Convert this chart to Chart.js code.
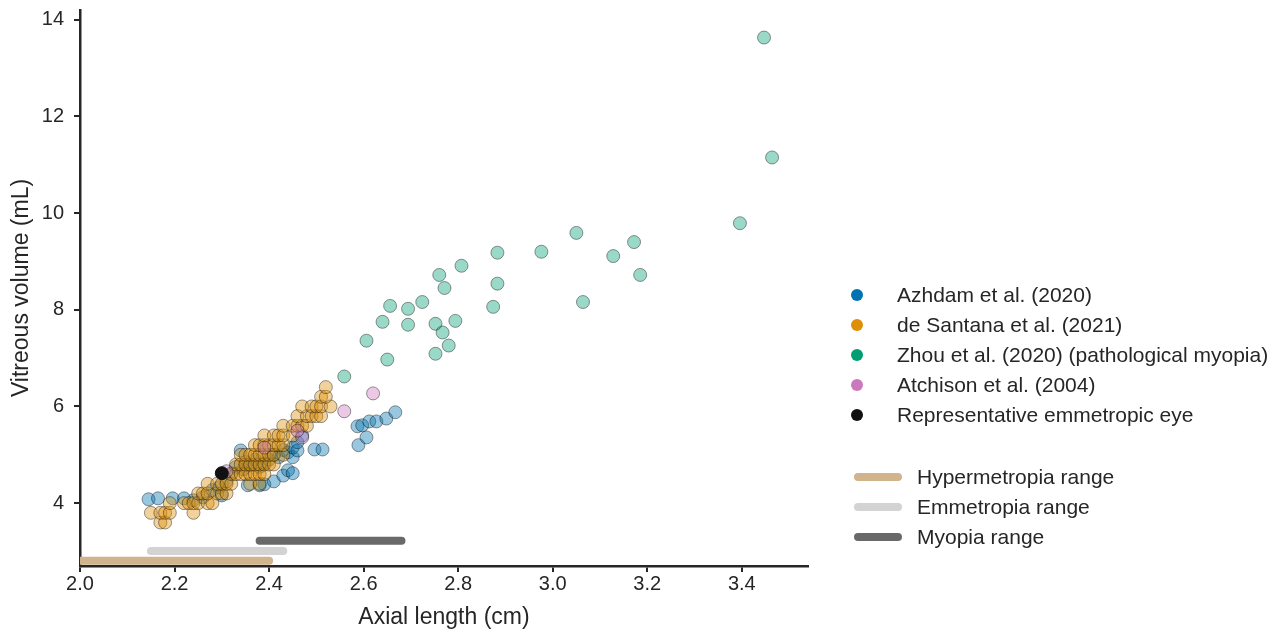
<!DOCTYPE html>
<html>
<head>
<meta charset="utf-8">
<script src="https://cdn.jsdelivr.net/npm/chart.js@4"></script>
<style>
  body { margin: 0; background: #fff; font-family: "Liberation Sans", Arial, sans-serif; }
  #wrap { position: relative; width: 1286px; height: 633px; }
  #legend { position: absolute; left: 846px; top: 280px; color: #262626; font-size: 21px; }
  .item { position: absolute; white-space: nowrap; height: 30px; line-height: 30px; }
  .dot { position: absolute; left: 5px; top: 9px; width: 12px; height: 12px; border-radius: 50%; }
  .bar { position: absolute; left: 8px; top: 11px; width: 48px; height: 8px; border-radius: 4px; }
</style>
</head>
<body>
<div id="wrap">
  <canvas id="chart" width="1286" height="633"></canvas>
  <div id="legend"></div>
</div>
<script>
// --- data (axial length cm, vitreous volume mL) ---
const azhdamX = [2.145, 2.165, 2.196, 2.22, 2.24, 2.26, 2.28, 2.295, 2.30, 2.31, 2.32, 2.33, 2.34, 2.345, 2.35, 2.355, 2.36, 2.37, 2.38, 2.38, 2.39, 2.39, 2.40, 2.41, 2.41, 2.42, 2.43, 2.43, 2.44, 2.44, 2.45, 2.45, 2.45, 2.46, 2.46, 2.47, 2.496, 2.513, 2.587, 2.589, 2.597, 2.606, 2.612, 2.627, 2.648, 2.667];
const azhdamY = [4.08, 4.10, 4.10, 4.10, 4.06, 4.12, 4.27, 4.33, 4.16, 4.45, 4.62, 4.75, 5.09, 4.70, 4.85, 4.37, 4.78, 4.90, 4.37, 4.75, 4.39, 4.82, 4.90, 4.45, 5.00, 4.95, 4.57, 5.10, 4.68, 5.05, 4.62, 4.95, 5.15, 5.09, 5.26, 5.40, 5.11, 5.11, 5.59, 5.20, 5.61, 5.36, 5.69, 5.69, 5.75, 5.88];

const santanaX = [
  2.17, 2.18,
  2.15, 2.17, 2.18, 2.19, 2.24,
  2.19, 2.22, 2.23, 2.24, 2.25, 2.27, 2.28,
  2.25, 2.26, 2.27, 2.29, 2.30, 2.31,
  2.27, 2.29, 2.30, 2.31, 2.32, 2.36, 2.38,
  2.32, 2.33, 2.34, 2.35, 2.36, 2.37, 2.38, 2.39,
  2.33, 2.34, 2.35, 2.36, 2.37, 2.38, 2.39, 2.40, 2.41,
  2.34, 2.35, 2.36, 2.37, 2.38, 2.39, 2.40, 2.41, 2.43,
  2.37, 2.38, 2.39, 2.40, 2.41, 2.42, 2.43,
  2.39, 2.41, 2.42, 2.43, 2.45,
  2.43, 2.45, 2.46, 2.47, 2.48,
  2.46, 2.48, 2.49, 2.50, 2.51,
  2.47, 2.49, 2.50, 2.51, 2.53,
  2.51, 2.52,
  2.52
];
const santanaY = [
  3.6, 3.6,
  3.8, 3.8, 3.8, 3.8, 3.8,
  4.0, 4.0, 4.0, 4.0, 4.0, 4.0, 4.0,
  4.2, 4.2, 4.2, 4.2, 4.2, 4.2,
  4.4, 4.4, 4.4, 4.4, 4.4, 4.4, 4.4,
  4.6, 4.6, 4.6, 4.6, 4.6, 4.6, 4.6, 4.6,
  4.8, 4.8, 4.8, 4.8, 4.8, 4.8, 4.8, 4.8, 4.8,
  5.0, 5.0, 5.0, 5.0, 5.0, 5.0, 5.0, 5.0, 5.0,
  5.2, 5.2, 5.2, 5.2, 5.2, 5.2, 5.2,
  5.4, 5.4, 5.4, 5.4, 5.4,
  5.6, 5.6, 5.6, 5.6, 5.6,
  5.8, 5.8, 5.8, 5.8, 5.8,
  6.0, 6.0, 6.0, 6.0, 6.0,
  6.2, 6.2,
  6.4
];

const zhouX = [3.447, 3.464, 3.396, 3.172, 3.128, 3.185, 3.05, 3.064, 2.976, 2.883, 2.883, 2.874, 2.807, 2.76, 2.771, 2.724, 2.656, 2.694, 2.694, 2.64, 2.794, 2.752, 2.767, 2.78, 2.752, 2.65, 2.606, 2.559];
const zhouY = [13.63, 11.15, 9.79, 9.40, 9.11, 8.72, 9.59, 8.16, 9.20, 9.18, 8.54, 8.06, 8.91, 8.72, 8.45, 8.16, 8.08, 8.02, 7.69, 7.75, 7.77, 7.71, 7.53, 7.26, 7.09, 6.97, 7.36, 6.62];

const atchisonX = [2.62, 2.559, 2.47, 2.46, 2.39, 2.31];
const atchisonY = [6.27, 5.90, 5.36, 5.50, 5.15, 4.66];

const emmX = [2.30];
const emmY = [4.62];

// refraction ranges: [start, end] of axial length, drawn at a fixed height
const hyperRange = [1.9, 2.40];
const emmetRange = [2.15, 2.43];
const myopiaRange = [2.38, 2.68];
const rangeLevels = [2.81, 3.01, 3.22];

const xTicks = [2.0, 2.2, 2.4, 2.6, 2.8, 3.0, 3.2, 3.4];
const yTicks = [4, 6, 8, 10, 12, 14];

const toPts = (xs, ys) => xs.map((x, i) => ({ x: x, y: ys[i] }));
const rangePts = (r, lvl) => [{ x: r[0], y: lvl }, { x: r[1], y: lvl }];

const scatter = (label, xs, ys, fill, edge, solid, r) => ({
  type: "scatter",
  label: label,
  data: toPts(xs, ys),
  backgroundColor: fill,
  borderColor: edge,
  borderWidth: 1,
  pointRadius: r,
  pointHoverRadius: r,
  solid: solid,
});
const rangeLine = (label, r, lvl, color) => ({
  type: "line",
  label: label,
  data: rangePts(r, lvl),
  borderColor: color,
  borderWidth: 8,
  borderCapStyle: "round",
  pointRadius: 0,
  fill: false,
});

const edge = "rgba(0,0,0,0.4)";
const scatterSets = [
  scatter("Azhdam et al. (2020)", azhdamX, azhdamY, "rgba(1,115,178,0.4)", edge, "#0173b2", 6.5),
  scatter("de Santana et al. (2021)", santanaX, santanaY, "rgba(222,143,5,0.4)", edge, "#de8f05", 6.5),
  scatter("Zhou et al. (2020) (pathological myopia)", zhouX, zhouY, "rgba(2,158,115,0.4)", edge, "#029e73", 6.5),
  scatter("Atchison et al. (2004)", atchisonX, atchisonY, "rgba(204,120,188,0.4)", edge, "#cc78bc", 6.5),
  scatter("Representative emmetropic eye", emmX, emmY, "#111111", "#111111", "#111111", 6.5),
];
const rangeSets = [
  rangeLine("Hypermetropia range", hyperRange, rangeLevels[0], "#d2b48c"),
  rangeLine("Emmetropia range", emmetRange, rangeLevels[1], "#d3d3d3"),
  rangeLine("Myopia range", myopiaRange, rangeLevels[2], "#696969"),
];
// chart.js draws the first dataset on top, so reverse the plotting order
const datasets = [...rangeSets, ...scatterSets].reverse();

const tickFont = { family: "'Liberation Sans', Arial, sans-serif", size: 20 };
const titleFont = { family: "'Liberation Sans', Arial, sans-serif", size: 23 };

new Chart(document.getElementById("chart"), {
  type: "scatter",
  data: { datasets: datasets },
  options: {
    responsive: false,
    animation: false,
    layout: { padding: { left: 0, right: 478, top: 10, bottom: 0 } },
    plugins: { legend: { display: false }, tooltip: { enabled: false } },
    scales: {
      x: {
        type: "linear",
        min: 2.0,
        max: 3.54,
        afterBuildTicks: (axis) => { axis.ticks = xTicks.map((v) => ({ value: v })); },
        afterFit: (axis) => { axis.height = 67; },
        ticks: { color: "#262626", font: tickFont, padding: 0, callback: (v) => v.toFixed(1) },
        grid: { drawOnChartArea: false, drawTicks: true, tickLength: 6, color: "#262626", lineWidth: 2 },
        border: { display: true, color: "#262626", width: 2.5 },
        title: { display: true, text: "Axial length (cm)", color: "#262626", font: titleFont, padding: { top: 0, bottom: 2 } },
      },
      y: {
        type: "linear",
        min: 2.7,
        max: 14.2,
        afterBuildTicks: (axis) => { axis.ticks = yTicks.map((v) => ({ value: v })); },
        afterFit: (axis) => {
          axis.width = 80;
          // the top tick is not at the edge, so no label padding is needed
          axis.paddingTop = 0;
          axis.paddingBottom = 0;
        },
        ticks: { color: "#262626", font: tickFont, padding: 10 },
        grid: { drawOnChartArea: false, drawTicks: true, tickLength: 6, color: "#262626", lineWidth: 2 },
        border: { display: true, color: "#262626", width: 2.5 },
        title: { display: true, text: "Vitreous volume (mL)", color: "#262626", font: titleFont, padding: { top: 8, bottom: 0 } },
      },
    },
  },
});

// legend drawn as html to the right of the plot
const legendEl = document.getElementById("legend");
scatterSets.forEach((ds, i) => {
  legendEl.insertAdjacentHTML("beforeend",
    `<div class="item" style="top:${i * 30}px"><span class="dot" style="background:${ds.solid}"></span><span style="margin-left:51px">${ds.label}</span></div>`);
});
rangeSets.forEach((ds, i) => {
  legendEl.insertAdjacentHTML("beforeend",
    `<div class="item" style="top:${182 + i * 30}px"><span class="bar" style="background:${ds.borderColor}"></span><span style="margin-left:71px">${ds.label}</span></div>`);
});
</script>
</body>
</html>
